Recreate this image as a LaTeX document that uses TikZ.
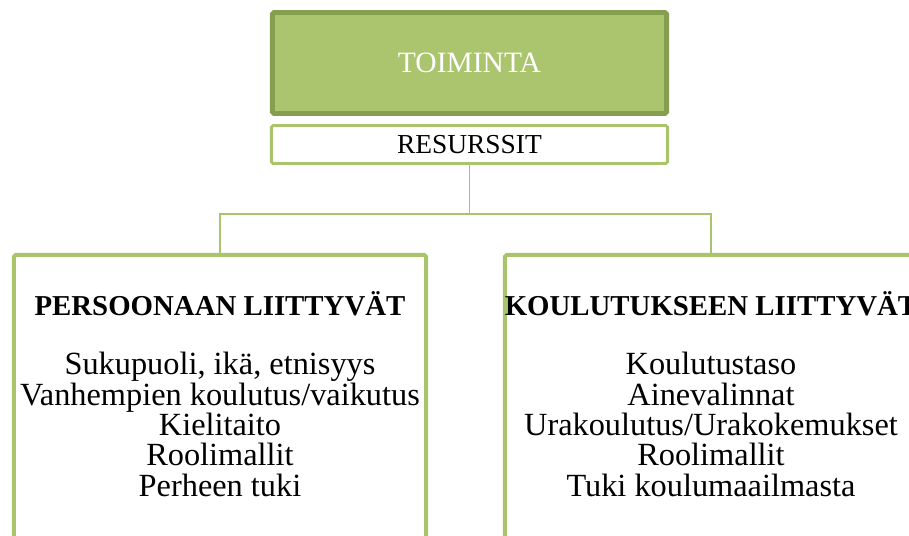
\documentclass[tikz,border=0pt]{standalone}
\usepackage{fontspec}
\setmainfont{Liberation Serif}
\usepackage{xcolor}
\usepackage{tikz}
\usetikzlibrary{
    positioning
}
\definecolor{leafGreen}{RGB}{171, 197, 110}
\definecolor{leafDark}{RGB}{134, 158, 80}
\definecolor{lineGreen}{RGB}{169, 196, 106}

\begin{document}
\begin{tikzpicture}[x=0.025cm, y=-0.025cm,
        box/.style={draw=lineGreen, line width=2.8pt, rounded corners=1.2pt, fill=white, outer sep=0pt, inner sep=0pt},
        link/.style={draw=lineGreen, line width=1.4pt},
        txt/.style={font=\fontsize{23}{21.6}\selectfont, inner sep=0pt, align=center},
        head/.style={txt, anchor=base, font=\fontsize{20.5}{21.6}\selectfont\bfseries}]
            \useasboundingbox (0,0) rectangle (909,536);
            \clip (0,0) rectangle (909,536);

            % Top boxes
            \node[box, txt, draw=leafDark, fill=leafGreen, line width=3.5pt, text=white,
                minimum width=9.85cm, minimum height=2.525cm] (toiminta) at (469.5,63) {\fontsize{21}{22}\selectfont TOIMINTA};
            \node[box, txt, line width=2.1pt, minimum width=9.9cm, minimum height=0.95cm,
                below=0.3cm of toiminta] (resurssit) {\fontsize{19.5}{22}\selectfont RESURSSIT};

            % Lower boxes (cut off by the frame)
            \node[box, minimum width=10.3cm, minimum height=7.625cm] (persoona) at (220,407.5) {};
            \node[box, minimum width=10.3cm, minimum height=7.625cm] (koulutus) at (711,407.5) {};

            % Connectors
            \draw[link] (resurssit.south) -- ++(0,50.5) coordinate (fork);
            \draw[link] (fork) -| (persoona.north);
            \draw[link] (fork) -| (koulutus.north);

            % Headings
            \node[head] (ptitle) at (220,316) {PERSOONAAN LIITTYVÄT};
            \node[head] (ktitle) at (711,316) {KOULUTUKSEEN LIITTYVÄT};

            % Lists
            \node[txt, anchor=north] (plist) at (220,352) {Sukupuoli, ikä, etnisyys\\Vanhempien koulutus/vaikutus\\Kielitaito\\Roolimallit\\Perheen tuki};
            \node[txt, anchor=north] (klist) at (711,352) {Koulutustaso\\Ainevalinnat\\Urakoulutus/Urakokemukset\\Roolimallit\\Tuki koulumaailmasta};
        \end{tikzpicture}
\end{document}
